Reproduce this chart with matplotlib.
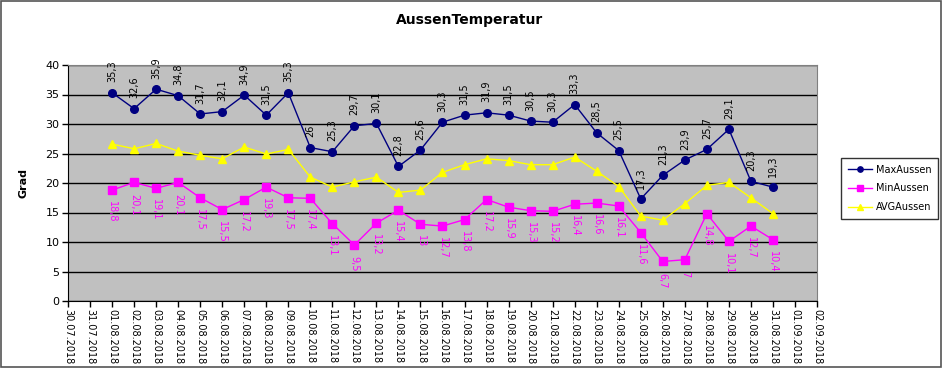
import matplotlib
matplotlib.use("Agg")
import matplotlib.pyplot as plt
import matplotlib.dates as mdates
from matplotlib.patches import Rectangle
import datetime as dt

dates = [dt.date(2018, 8, d) for d in range(1, 32)]
max_aussen = [35.3, 32.6, 35.9, 34.8, 31.7, 32.1, 34.9, 31.5, 35.3, 26, 25.3, 29.7, 30.1, 22.8,
              25.6, 30.3, 31.5, 31.9, 31.5, 30.5, 30.3, 33.3, 28.5, 25.5, 17.3, 21.3, 23.9, 25.7,
              29.1, 20.3, 19.3]
min_aussen = [18.8, 20.1, 19.1, 20.1, 17.5, 15.5, 17.2, 19.3, 17.5, 17.4, 13.1, 9.5, 13.2, 15.4,
              13, 12.7, 13.8, 17.2, 15.9, 15.3, 15.2, 16.4, 16.6, 16.1, 11.6, 6.7, 7, 14.8,
              10.1, 12.7, 10.4]
avg_aussen = [26.6, 25.8, 26.7, 25.4, 24.7, 24.1, 26.1, 24.9, 25.7, 21.0, 19.3, 20.2, 21.0, 18.4,
              18.8, 21.8, 23.1, 24.1, 23.8, 23.1, 23.1, 24.4, 22.0, 19.4, 14.4, 13.7, 16.5, 19.6,
              20.1, 17.5, 14.8]
x_start = dt.date(2018, 7, 30)
x_end = dt.date(2018, 9, 2)

def fmt(v):
    s = ("%g" % v)
    return s.replace(".", ",")

fig = plt.figure(figsize=(9.43, 3.68), dpi=100)
fig.patch.set_facecolor("white")
fig.patches.append(Rectangle((0.001, 0.002), 0.997, 0.995, transform=fig.transFigure,
                             fill=False, edgecolor="#555555", linewidth=1.2))

ax = fig.add_axes([68/943, 1-301/368, (817-68)/943, (301-65)/368])
ax.set_facecolor("#C0C0C0")

ax.plot(dates, max_aussen, color="#000080", marker="o", markersize=5.5, linewidth=1, label="MaxAussen", zorder=3)
ax.plot(dates, min_aussen, color="#FF00FF", marker="s", markersize=5.5, linewidth=1, label="MinAussen", zorder=3)
ax.plot(dates, avg_aussen, color="#FFFF00", marker="^", markersize=5.5, linewidth=1, label="AVGAussen", zorder=3)

for d, v in zip(dates, max_aussen):
    ax.annotate(fmt(v), (mdates.date2num(d), v), xytext=(0, 7.5), textcoords="offset points",
                rotation=90, ha="center", va="bottom", fontsize=7, color="black")
for d, v in zip(dates, min_aussen):
    ax.annotate(fmt(v), (mdates.date2num(d), v), xytext=(0, -8), textcoords="offset points",
                rotation=270, ha="center", va="top", fontsize=7, color="#FF00FF")

ax.set_xlim(mdates.date2num(x_start), mdates.date2num(x_end))
ax.set_ylim(0, 40)
ax.set_yticks(range(0, 41, 5))
ax.yaxis.grid(True, color="black", linewidth=1)
ax.set_axisbelow(True)
ax.xaxis.set_major_locator(mdates.DayLocator())
ax.xaxis.set_major_formatter(mdates.DateFormatter("%d.%m.%Y"))
plt.setp(ax.get_xticklabels(), rotation=270, ha="center", va="top", fontsize=7)
plt.setp(ax.get_yticklabels(), fontsize=8)
ax.tick_params(axis="both", direction="out", length=4, width=1, color="black", pad=2)

for s in ["left", "bottom"]:
    ax.spines[s].set_color("black")
for s in ["right", "top"]:
    ax.spines[s].set_color("#808080")

ax.set_ylabel("Grad", fontsize=8, fontweight="bold", labelpad=12)
fig.text(0.498, 0.946, "AussenTemperatur", ha="center", va="center", fontsize=10, fontweight="bold")

leg = fig.legend(loc="upper left", bbox_to_anchor=(836/943, 1-153/368), fontsize=7,
                 frameon=True, fancybox=False, edgecolor="black", borderpad=0.7,
                 handlelength=2.5, labelspacing=0.9, handletextpad=0.4, markerscale=0.7)
leg.get_frame().set_linewidth(1)

fig.savefig("out.png", dpi=100)
